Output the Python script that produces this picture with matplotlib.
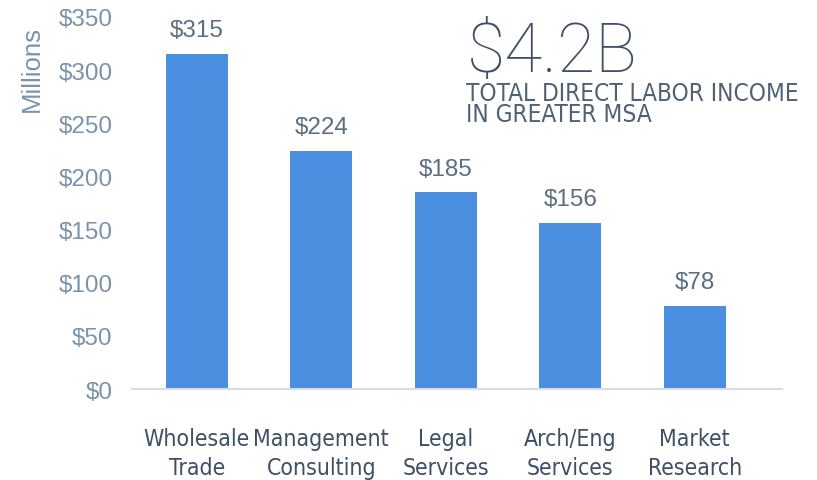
import numpy as np
import matplotlib.pyplot as plt

categories = ['Wholesale\nTrade', 'Management\nConsulting', 'Legal\nServices', 'Arch/Eng\nServices', 'Market\nResearch']
values = [315, 224, 185, 156, 78]
yticks = [0, 50, 100, 150, 200, 250, 300, 350]

plt.rcParams['font.family'] = ['Liberation Sans', 'DejaVu Sans']

fig = plt.figure(figsize=(8.17, 4.81), dpi=100)
ax = fig.add_axes([0.1616, 0.189, 0.7954, 0.7736])

x = np.arange(len(categories))
ax.bar(x, values, width=0.5, color='#4a8fe0')

for xi, v in zip(x, values):
    ax.text(xi, v + 12, f'${v}', ha='center', va='bottom', fontsize=17.5, color='#5b6f82')

ax.set_ylim(0, 350)
ax.set_xlim(-0.52, 4.7)
ax.set_yticks(yticks)
ax.set_yticklabels([f'${t}' for t in yticks], fontsize=17.5, color='#7a93aa')
ax.set_xticks(x)
ax.set_xticklabels(categories, fontsize=16.5, color='#3d5066', linespacing=1.35,
                   family='DejaVu Sans', fontstretch='condensed')
ax.tick_params(axis='both', length=0)
ax.tick_params(axis='x', pad=27)
ax.tick_params(axis='y', pad=14)

for s in ['top', 'right', 'left']:
    ax.spines[s].set_visible(False)
ax.spines['bottom'].set_color('#d9dde3')
ax.spines['bottom'].set_linewidth(1.5)

fig.text(0.039, 0.857, 'Millions', rotation=90, ha='center', va='center', fontsize=18.5, color='#7a93aa')

fig.text(0.571, 0.85, '$4.2B', fontsize=50, color='#3d5066', ha='left', va='baseline',
         family=['Roboto', 'DejaVu Sans'], fontweight='light')
fig.text(0.570, 0.735, 'TOTAL DIRECT LABOR INCOME\nIN GREATER MSA', fontsize=17.5, color='#4f6275',
         ha='left', va='bottom', linespacing=0.86, family='DejaVu Sans', fontstretch='condensed')

plt.savefig('out.png', dpi=100)
